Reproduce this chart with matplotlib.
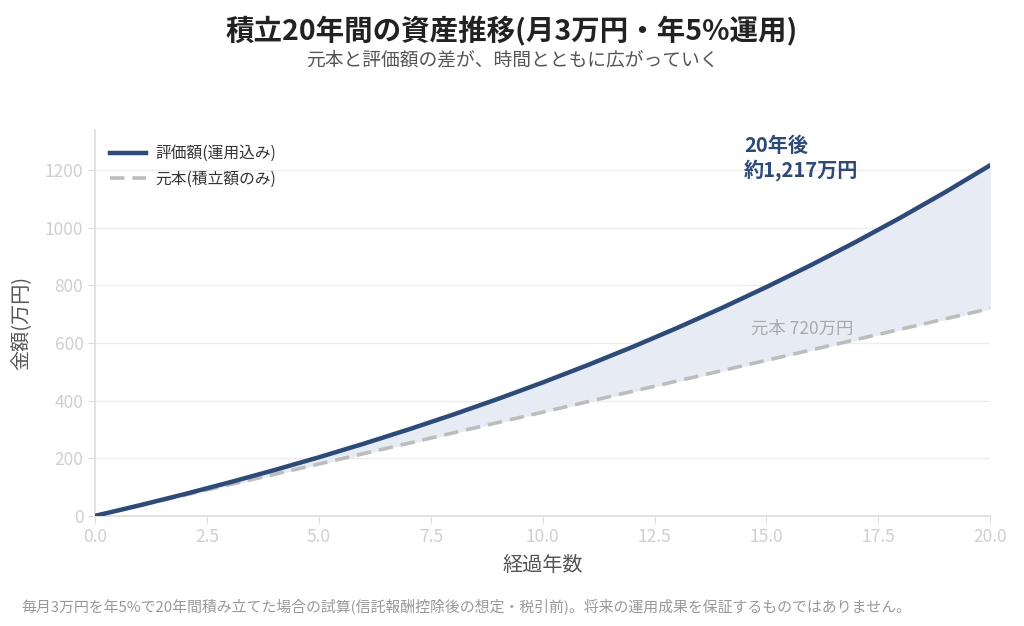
import matplotlib
matplotlib.use("Agg")
import matplotlib.pyplot as plt

plt.rcParams['font.family'] = ['Noto Sans CJK JP', 'DejaVu Sans']

# yearly values (万円)
years = list(range(0, 21))
valuation = [0, 36.8, 75.5, 116.1, 158.7, 203.4, 250.4, 299.8, 351.6, 406.0,
             463.1, 523.1, 586.0, 652.2, 721.6, 794.5, 871.0, 951.4, 1035.8,
             1124.4, 1217.4]
principal = [0, 36, 72, 108, 144, 180, 216, 252, 288, 324, 360, 396, 432, 468,
             504, 540, 576, 612, 648, 684, 720]

navy = '#2d4a78'
gray_line = '#bdbdbd'
tick_col = '#cfcfcf'

fig = plt.figure(figsize=(10.24, 6.26), dpi=100)
ax = fig.add_axes([0.093, 0.176, 0.874, 0.616])

ax.fill_between(years, principal, valuation, color='#e7ecf4', zorder=1)
ax.plot(years, valuation, color=navy, lw=3.2, label='評価額(運用込み)', zorder=3)
ax.plot(years, principal, color=gray_line, lw=2.6, ls=(0, (4, 2.2)),
        label='元本(積立額のみ)', zorder=2)

ax.set_xlim(0, 20)
ax.set_ylim(0, 1339)
ax.set_yticks([0, 200, 400, 600, 800, 1000, 1200])
ax.set_xticks([0, 2.5, 5, 7.5, 10, 12.5, 15, 17.5, 20])
ax.set_xticklabels(['0.0', '2.5', '5.0', '7.5', '10.0', '12.5', '15.0', '17.5', '20.0'])
ax.grid(axis='y', color='#ececec', lw=1)
ax.set_axisbelow(True)
for s in ['top', 'right']:
    ax.spines[s].set_visible(False)
for s in ['left', 'bottom']:
    ax.spines[s].set_color('#dddddd')
    ax.spines[s].set_linewidth(1.2)
ax.tick_params(colors='#dddddd', labelcolor=tick_col, labelsize=12.5, length=5)

ax.set_xlabel('経過年数', fontsize=14.5, color='#555555', labelpad=7)
ax.set_ylabel('金額(万円)', fontsize=14.5, color='#555555', labelpad=9)

leg = ax.legend(loc='upper left', frameon=False, fontsize=11.3, handlelength=2.3,
                handletextpad=0.6, labelspacing=0.55, borderaxespad=0.55,
                bbox_to_anchor=(0.0, 1.0))
for t in leg.get_texts():
    t.set_color('#333333')

ax.text(14.5, 1163, '20年後\n約1,217万円', color=navy, fontsize=14.5,
        fontweight='bold', ha='left', va='bottom', linespacing=1.15)
ax.text(14.65, 650, '元本 720万円', color='#a8a8a8', fontsize=12.5,
        ha='left', va='center')

fig.text(0.5, 0.950, '積立20年間の資産推移(月3万円・年5%運用)', ha='center', va='center',
         fontsize=20.5, fontweight='bold', color='#222222')
fig.text(0.5, 0.905, '元本と評価額の差が、時間とともに広がっていく', ha='center', va='center',
         fontsize=13.5, color='#555555')
fig.text(0.021, 0.032,
         '毎月3万円を年5%で20年間積み立てた場合の試算(信託報酬控除後の想定・税引前)。'
         '将来の運用成果を保証するものではありません。',
         ha='left', va='center', fontsize=10.75, color='#999999')

fig.savefig('out.png', dpi=100, facecolor='white')
